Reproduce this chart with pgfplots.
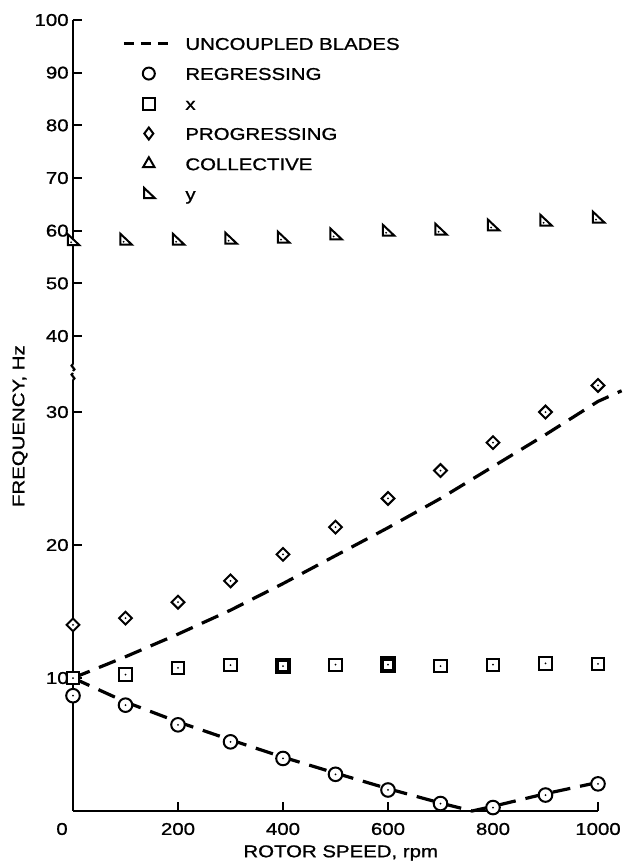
\documentclass[border=0pt]{standalone}
\usepackage{pgfplots}
\pgfplotsset{compat=1.18}
\usepackage{fontspec}
\setmainfont{Liberation Sans}[FakeStretch=1.2, FakeBold=1]

% open marks with a dot in the middle, as in the scanned figure
\pgfdeclareplotmark{dcirc}{%
  \pgfpathcircle{\pgfpointorigin}{\pgfplotmarksize}%
  \pgfsetfillcolor{white}\pgfusepathqfillstroke
  \pgfpathcircle{\pgfpointorigin}{0.5pt}%
  \pgfsetfillcolor{black}\pgfusepathqfill}
\pgfdeclareplotmark{dsquare}{%
  \pgfpathrectangle{\pgfpoint{-\pgfplotmarksize}{-\pgfplotmarksize}}{\pgfpoint{2\pgfplotmarksize}{2\pgfplotmarksize}}%
  \pgfsetfillcolor{white}\pgfusepathqfillstroke
  \pgfpathcircle{\pgfpointorigin}{0.5pt}%
  \pgfsetfillcolor{black}\pgfusepathqfill}
\pgfdeclareplotmark{ddiamond}{%
  \pgfpathmoveto{\pgfpoint{0pt}{\pgfplotmarksize}}%
  \pgfpathlineto{\pgfpoint{\pgfplotmarksize}{0pt}}%
  \pgfpathlineto{\pgfpoint{0pt}{-\pgfplotmarksize}}%
  \pgfpathlineto{\pgfpoint{-\pgfplotmarksize}{0pt}}%
  \pgfpathclose
  \pgfsetfillcolor{white}\pgfusepathqfillstroke
  \pgfpathcircle{\pgfpointorigin}{0.5pt}%
  \pgfsetfillcolor{black}\pgfusepathqfill}
\pgfdeclareplotmark{rtri}{%
  \pgfpathmoveto{\pgfpoint{-0.8\pgfplotmarksize}{\pgfplotmarksize}}%
  \pgfpathlineto{\pgfpoint{-0.8\pgfplotmarksize}{-0.7\pgfplotmarksize}}%
  \pgfpathlineto{\pgfpoint{\pgfplotmarksize}{-0.7\pgfplotmarksize}}%
  \pgfpathclose
  \pgfsetfillcolor{white}\pgfusepathqfillstroke}
\pgfdeclareplotmark{drtri}{%
  \pgfpathmoveto{\pgfpoint{-0.8\pgfplotmarksize}{\pgfplotmarksize}}%
  \pgfpathlineto{\pgfpoint{-0.8\pgfplotmarksize}{-0.7\pgfplotmarksize}}%
  \pgfpathlineto{\pgfpoint{\pgfplotmarksize}{-0.7\pgfplotmarksize}}%
  \pgfpathclose
  \pgfsetfillcolor{white}\pgfusepathqfillstroke
  \pgfpathcircle{\pgfpoint{-0.3\pgfplotmarksize}{-0.25\pgfplotmarksize}}{0.5pt}%
  \pgfsetfillcolor{black}\pgfusepathqfill}

\pgfplotsset{
  base/.style={
    scale only axis, width=262.5pt,
    xmin=0, xmax=1000,
    clip=false,
    axis line style={line width=1.2pt},
    tick style={draw=black, line width=1.1pt},
    tick align=inside, major tick length=4.5pt,
    tick label style={font=\fontsize{8.5}{10}\selectfont},
    label style={font=\fontsize{8.5}{10}\selectfont},
    /pgf/number format/assume math mode=true,
    /pgf/number format/1000 sep={},
    yticklabel style={anchor=east, inner sep=0pt, xshift=-2pt},
  },
  uncoupled/.style={black, line width=1.6pt, dash pattern=on 9pt off 5pt},
}

\begin{document}
\begin{tikzpicture}
% lower part of the broken frequency axis
\begin{axis}[base,
  at={(0,0)}, anchor=south west,
  height=215.5pt,
  ymin=0, ymax=32.41,
  axis x line*=bottom, axis y line*=left,
  xtick pos=bottom, ytick pos=left,
  xtick={200,400,600,800,1000},
  extra x ticks={0},
  extra x tick style={major tick length=0pt, xticklabel style={xshift=-5.5pt}},
  xticklabel style={anchor=center, yshift=-9pt},
  ytick={10,20,30},
  xlabel={ROTOR SPEED, rpm},
  ylabel={FREQUENCY, Hz},
  xlabel style={at={(axis description cs:0.51,-0.0975)}, anchor=center},
  ylabel style={at={(axis description cs:-0.101,0.893)}, anchor=center},
]
% uncoupled blades, progressing and regressing
\addplot[uncoupled] coordinates {
  (0,10) (100,11.6) (200,13.3) (300,15.1) (400,17.1) (500,19.2)
  (600,21.3) (700,23.5) (800,25.9) (900,28.3) (1000,30.8) (1045,31.6)};
\addplot[uncoupled] coordinates {
  (0,10) (100,8.2) (200,6.7) (300,5.35) (400,4.05) (500,2.85)
  (600,1.68) (700,0.6) (760,0) (800,0.35) (900,1.3) (1000,2.15)};
% x
\addplot[only marks, mark=dsquare, mark size=3.1pt, line width=1pt] coordinates {
  (0,10.0) (100,10.26) (200,10.77) (300,10.97) (500,11.0)
  (700,10.9) (800,11.0) (900,11.1) (1000,11.07)};
\addplot[only marks, mark=dsquare, mark size=3.1pt, line width=2.2pt] coordinates {
  (400,10.9) (600,11.0)};
% regressing
\addplot[only marks, mark=dcirc, mark size=3.4pt, line width=1pt] coordinates {
  (0,8.67) (100,7.96) (200,6.48) (300,5.2) (400,3.95) (500,2.76)
  (600,1.58) (700,0.56) (800,0.26) (900,1.2) (1000,2.04)};
% progressing
\addplot[only marks, mark=ddiamond, mark size=3.2pt, line width=1pt] coordinates {
  (0,14.0) (100,14.5) (200,15.7) (300,17.3) (400,19.3) (500,21.35)
  (600,23.5) (700,25.6) (800,27.7) (900,30.0) (1000,32.0)};
\end{axis}

% upper part
\begin{axis}[base,
  at={(0,223.5pt)}, anchor=south west,
  height=172pt,
  ymin=34.69, ymax=100,
  axis x line=none, axis y line*=left, ytick pos=left,
  xtick=\empty,
  ytick={40,50,...,100},
  legend style={at={(axis description cs:0.093,0.951)}, anchor=north west,
    draw=none, fill=none, inner sep=0pt, row sep=8.7pt,
    cells={anchor=west}, font=\fontsize{8.5}{10}\selectfont,
    nodes={inner ysep=0pt, inner xsep=5pt, text height=6.3pt, text depth=0pt}},
  legend image code/.code={\draw[mark repeat=2,mark phase=2,#1]
    plot coordinates {(0pt,0pt) (12.5pt,0pt) (25pt,0pt)};},
]
\addlegendimage{black, line width=1.6pt, dash pattern=on 5pt off 3.5pt}
\addlegendentry{UNCOUPLED BLADES}
\addlegendimage{only marks, mark=o, mark size=3pt, line width=1pt}
\addlegendentry{REGRESSING}
\addlegendimage{only marks, mark=square, mark size=3pt, line width=1pt}
\addlegendentry{x}
\addlegendimage{only marks, mark=diamond, mark size=3pt, line width=1pt}
\addlegendentry{PROGRESSING}
\addlegendimage{only marks, mark=triangle, mark size=3.3pt, line width=1pt}
\addlegendentry{COLLECTIVE}
\addlegendimage{only marks, mark=rtri, mark size=3pt, line width=1pt}
\addlegendentry{y}
% y
\addplot[only marks, mark=drtri, mark size=3.2pt, line width=1pt, forget plot] coordinates {
  (0,58.1) (100,58.2) (200,58.2) (300,58.4) (400,58.6) (500,59.2)
  (600,59.9) (700,60.1) (800,60.9) (900,61.8) (1000,62.4)};
\end{axis}

% break marks on the frequency axis
\draw[line width=1.1pt] (0,215.5pt) .. controls (2.5pt,216.5pt) and (-2.5pt,218pt) .. (0,219pt);
\draw[line width=1.1pt] (0,223.5pt) .. controls (-2.5pt,222.5pt) and (2.5pt,221pt) .. (0,220pt);

\pgfresetboundingbox
\useasboundingbox (-36.5pt,-28.5pt) rectangle (275pt,405.5pt);
\end{tikzpicture}
\end{document}
